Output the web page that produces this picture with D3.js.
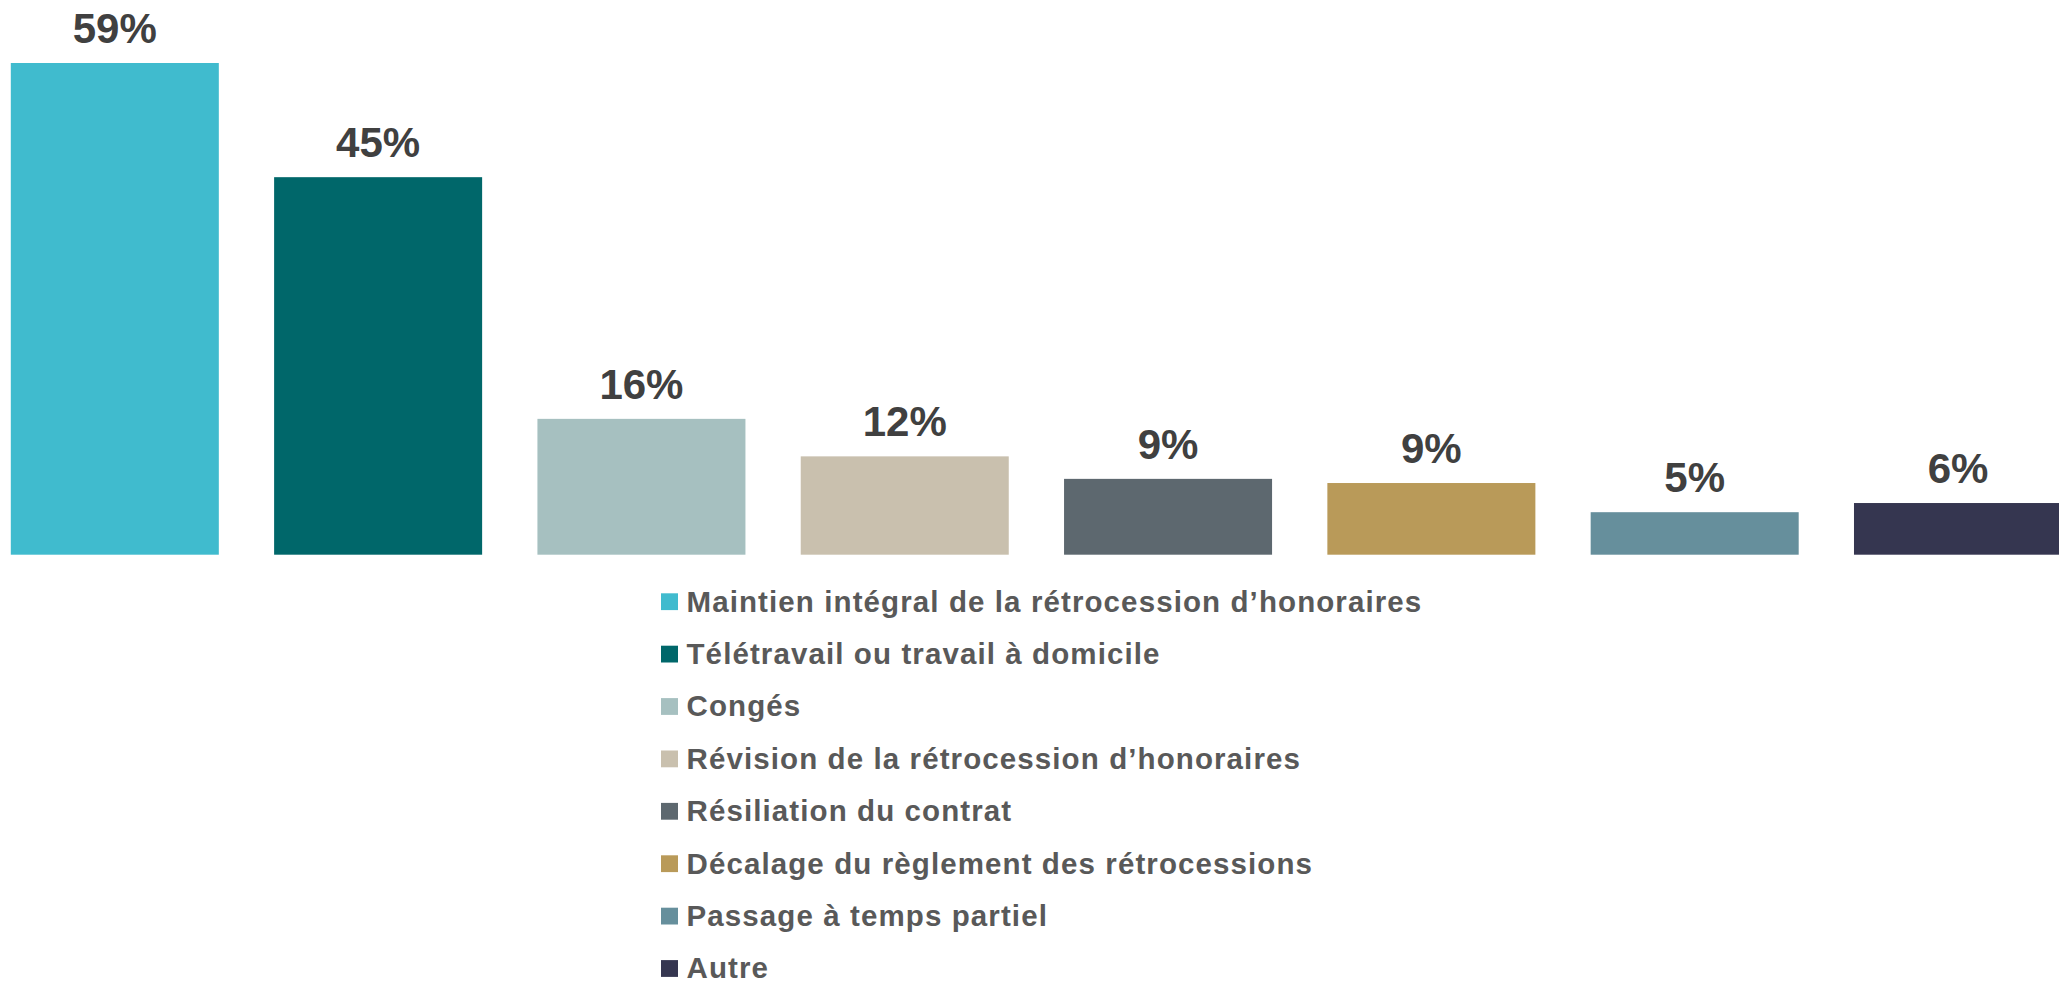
<!DOCTYPE html>
<html>
<head>
<meta charset="utf-8">
<script src="https://cdn.jsdelivr.net/npm/d3@7"></script>
<style>
body{margin:0;background:#fff;}
svg{display:block;}
.val{font-family:"Liberation Sans",Arial,sans-serif;font-weight:bold;fill:#404040;}
.leg{font-family:"Liberation Sans",Arial,sans-serif;font-weight:bold;fill:#595959;}
</style>
</head>
<body>
<svg id="chart"></svg>
<script>
// categories, values (in %) and colours
var categories = [
    "Maintien intégral de la rétrocession d’honoraires",
    "Télétravail ou travail à domicile",
    "Congés",
    "Révision de la rétrocession d’honoraires",
    "Résiliation du contrat",
    "Décalage du règlement des rétrocessions",
    "Passage à temps partiel",
    "Autre"
]
var values = [59, 45.3, 16.3, 11.8, 9.1, 8.6, 5.1, 6.2]
var colors = ["#40BBCE","#00676A","#A6C0C0","#C9C0AE","#5D686F","#B99A59","#668F9C","#353650"]

var screen = {width:2059,height:984}

var svg = d3.select("#chart")
    .attr("width",screen.width)
    .attr("height",screen.height)

var data = categories.map(function(c,i){
    return {name:c,value:values[i],color:colors[i]}
})

var xScale = d3.scaleBand()
    .domain(categories)
    .range([10.8, 2062])
    .paddingInner(0.21)
    .paddingOuter(0)

var yScale = d3.scaleLinear()
    .domain([0,59])
    .range([554.7,63])

var bars = svg.append("g")
bars.selectAll("rect")
    .data(data)
    .enter()
    .append("rect")
    .attr("x",function(d){return xScale(d.name)})
    .attr("y",function(d){return yScale(d.value)})
    .attr("width",xScale.bandwidth())
    .attr("height",function(d){return yScale(0)-yScale(d.value)})
    .attr("fill",function(d){return d.color})

bars.selectAll("text")
    .data(data)
    .enter()
    .append("text")
    .classed("val",true)
    .attr("x",function(d){return xScale(d.name)+xScale.bandwidth()/2})
    .attr("y",function(d){return yScale(d.value)-20})
    .attr("text-anchor","middle")
    .style("font-size","42px")
    .text(function(d){return Math.round(d.value)+"%"})

// legend, one row per category
var legend = svg.append("g")
    .attr("transform","translate(661,611.5)")

var rows = legend.selectAll("g")
    .data(data)
    .enter()
    .append("g")
    .attr("transform",function(d,i){return "translate(0,"+(i*52.4)+")"})

rows.append("rect")
    .attr("x",0)
    .attr("y",-18.2)
    .attr("width",17)
    .attr("height",16.8)
    .attr("fill",function(d){return d.color})

rows.append("text")
    .classed("leg",true)
    .attr("x",25.5)
    .attr("y",0)
    .style("font-size","29.5px")
    .style("letter-spacing","1.1px")
    .text(function(d){return d.name})
</script>
</body>
</html>
